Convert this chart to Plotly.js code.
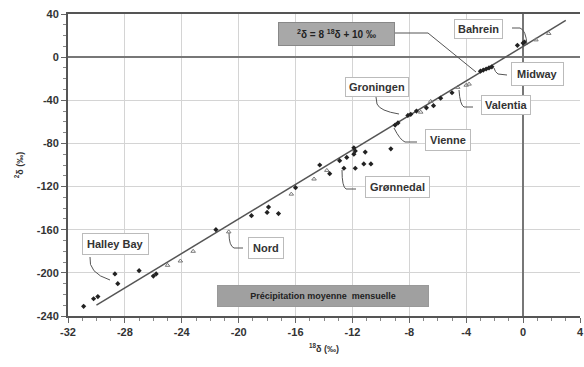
<!DOCTYPE html>
<html><head><meta charset="utf-8">
<script src="https://cdn.plot.ly/plotly-3.0.1.min.js"></script>
<style>html,body{margin:0;padding:0;background:#fff}#c{width:584px;height:367px}</style>
</head><body><div id="c"></div>
<script>
// Meteoric water line endpoints (δ2H = 8 δ18O + 10)
const lineX = [-30, 3];
const lineY = [-230, 34];

// Filled black markers (monthly mean precipitation)
const blackX = [-30.9,-30.2,-29.9,-28.7,-28.5,-27.0,-26.0,-25.8,-21.6,-19.1,-17.9,-18.0,-17.2,-16.0,-14.3,-13.6,-12.9,-12.6,-12.4,-11.9,-11.8,-11.9,-11.8,-11.1,-11.2,-10.7,-9.3,-9.0,-8.8,-8.1,-7.9,-7.5,-6.8,-6.3,-5.8,-5.0,-3.0,-2.8,-2.6,-2.4,-2.2,-0.4,0.0,0.1];
const blackY = [-231,-224,-222,-201,-210,-198,-203,-201,-160,-147,-139,-144,-145,-121,-100,-108,-96,-103,-93,-84,-87,-90,-103,-88,-99,-99,-85,-63,-61,-54,-53,-50,-47,-45,-38,-33,-13,-12,-11,-10,-9,11,13,14];

// Open grey markers
const greyX = [-25.0,-24.1,-23.2,-20.7,-16.3,-14.7,-13.8,-7.2,-6.5,-4.6,-4.0,-3.8,0.9,1.8];
const greyY = [-193,-189,-180,-162,-127,-113,-105,-51,-41,-28,-26,-25,16,22];

// Labels
const stationNames = ["Bahrein","Midway","Valentia","Groningen","Vienne","Grønnedal","Nord","Halley Bay"];
const xTicks = [-32,-28,-24,-20,-16,-12,-8,-4,0,4];
const yTicks = [40,0,-40,-80,-120,-160,-200,-240];

// pixel -> data helpers for decorations (plot area 68..580 x 14..316)
const X0=-32,X1=4,Y0=-240,Y1=40,L=68,R=580,T=14,B=316;
const dx = p => X0 + (p-L)*(X1-X0)/(R-L);
const dy = p => Y1 - (p-T)*(Y1-Y0)/(B-T);
const P = (x,y) => dx(x).toFixed(3)+','+dy(y).toFixed(3);

const F = "Liberation Sans, Arial, sans-serif";

const traces = [
  {x: lineX, y: lineY, mode:'lines', line:{color:'#555', width:1.5}, hoverinfo:'skip'},
  {x: greyX, y: greyY, mode:'markers', marker:{symbol:'triangle-up-open', size:4, color:'#777', line:{width:1}}},
  {x: blackX, y: blackY, mode:'markers', marker:{symbol:'diamond', size:4, color:'#222'}}
];

function box(text, px, py, opts={}) {
  return Object.assign({
    x: dx(px), y: dy(py), xref:'x', yref:'y', text: text, showarrow:false,
    font:{family:F, size:11, color:'#333', weight:'bold'},
    bgcolor:'#fff', bordercolor:'#bbb', borderwidth:1, borderpad:3
  }, opts);
}

const annotations = [
  box('<sup>2</sup>δ = 8 <sup>18</sup>δ + 10 ‰', 336, 34, {bgcolor:'#a8a8a8', bordercolor:'#888', font:{family:F,size:10,color:'#222',weight:'bold'}, borderpad:5, width:105}),
  box(stationNames[0], 478, 29),
  box(stationNames[1], 537, 74, {borderpad:5}),
  box(stationNames[2], 506, 105),
  box(stationNames[3], 377, 87),
  box(stationNames[4], 448, 140, {borderpad:4}),
  box(stationNames[5], 397, 187, {borderpad:4}),
  box(stationNames[6], 266, 248, {borderpad:4}),
  box(stationNames[7], 115, 244, {borderpad:4}),
  box('Précipitation moyenne  mensuelle', 323, 296, {bgcolor:'#a0a0a0', bordercolor:'#999', font:{family:F,size:9,color:'#222',weight:'bold'}, borderpad:5, width:200})
];

const leader = (d) => ({type:'path', xref:'x', yref:'y', path:d, line:{color:'#555', width:1}, layer:'above'});
const shapes = [
  leader('M'+P(395,33)+' L'+P(428,33)+' L'+P(476,72)),
  leader('M'+P(512,28)+' L'+P(520,28)+' Q'+P(526,30)+' '+P(527,45)),
  leader('M'+P(507,75)+' L'+P(498,74)+' Q'+P(495,72)+' '+P(494,68)),
  leader('M'+P(473,107)+' L'+P(464,107)+' Q'+P(460,105)+' '+P(459,90)),
  leader('M'+P(376,97)+' L'+P(377,104)+' Q'+P(380,111)+' '+P(399,114)),
  leader('M'+P(417,142)+' L'+P(405,142)+' Q'+P(400,140)+' '+P(394,128)),
  leader('M'+P(356,189)+' L'+P(346,189)+' Q'+P(342,187)+' '+P(342,170)),
  leader('M'+P(243,248)+' L'+P(234,248)+' Q'+P(229,246)+' '+P(229,233)),
  leader('M'+P(90,257)+' Q'+P(88,273)+' '+P(110,280))
];

const layout = {
  width:584, height:367, margin:{l:68, r:4, t:14, b:51},
  paper_bgcolor:'#fff', plot_bgcolor:'#fff', showlegend:false,
  xaxis:{range:[X0,X1], tickvals:xTicks, ticktext:xTicks.map(String),
    showgrid:true, gridcolor:'#d4d4d4', gridwidth:1,
    zeroline:true, zerolinecolor:'#777', zerolinewidth:2,
    showline:true, linecolor:'#555', linewidth:2, mirror:true,
    ticks:'outside', ticklen:5, tickcolor:'#666',
    minor:{dtick:1, ticks:'outside', ticklen:3, tickcolor:'#888', showgrid:false},
    tickfont:{family:F, size:11, color:'#333', weight:'bold'},
    title:{text:'<sup>18</sup>δ (‰)', font:{family:F, size:9, color:'#333', weight:'bold'}, standoff:8}},
  yaxis:{range:[Y0,Y1], tickvals:yTicks, ticktext:yTicks.map(String),
    showgrid:true, gridcolor:'#d4d4d4', gridwidth:1,
    zeroline:true, zerolinecolor:'#777', zerolinewidth:2,
    showline:true, linecolor:'#555', linewidth:2,
    ticks:'outside', ticklen:5, tickcolor:'#666',
    minor:{dtick:10, ticks:'outside', ticklen:3, tickcolor:'#888', showgrid:false},
    tickfont:{family:F, size:11, color:'#333', weight:'bold'},
    title:{text:'<sup>2</sup>δ (‰)', font:{family:F, size:9, color:'#333', weight:'bold'}, standoff:12}},
  annotations: annotations, shapes: shapes
};

Plotly.newPlot('c', traces, layout, {staticPlot:true, displayModeBar:false});
</script></body></html>
